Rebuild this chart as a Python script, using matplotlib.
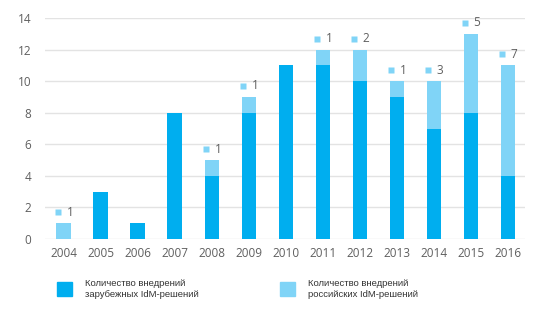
import matplotlib
matplotlib.use("Agg")
import matplotlib.pyplot as plt
import numpy as np
from matplotlib.patches import Rectangle

years = ["2004", "2005", "2006", "2007", "2008", "2009", "2010",
         "2011", "2012", "2013", "2014", "2015", "2016"]
foreign = [0, 3, 1, 8, 4, 8, 11, 11, 10, 9, 7, 8, 4]
russian = [1, 0, 0, 0, 1, 1, 0, 1, 2, 1, 3, 5, 7]

legend_labels = ["Количество внедрений\nзарубежных IdM-решений",
                 "Количество внедрений\nроссийских IdM-решений"]

dark = "#00aeef"
light = "#80d4f7"
txt = "#5f5f5f"

plt.rcParams["font.family"] = ["Open Sans", "DejaVu Sans"]

fig = plt.figure(figsize=(5.39, 3.11), dpi=100)
ax = fig.add_axes([45 / 539, 1 - 239 / 311, 480 / 539, 221 / 311])

x = np.arange(len(years))
ax.bar(x, foreign, width=0.4, color=dark, zorder=3)
ax.bar(x, russian, width=0.4, bottom=foreign, color=light, zorder=3)

# little square + count above bars that have russian part
for i in range(len(years)):
    if russian[i] > 0:
        top = foreign[i] + russian[i]
        yy = top + 0.7
        ax.plot(x[i] - 0.15, yy, marker="s", ms=5, color=light,
                mec="none", zorder=4, clip_on=False)
        ax.text(x[i] + 0.07, yy, str(russian[i]), color=txt, fontsize=8.5,
                va="center", ha="left")

ax.set_xlim(-0.51, 12.46)
ax.set_ylim(0, 14)
ax.set_yticks(range(0, 15, 2))
ax.set_xticks(x)
ax.set_xticklabels(years)
ax.grid(axis="y", color="#e3e3e3", lw=1, zorder=0)
for s in ax.spines.values():
    s.set_visible(False)
ax.tick_params(length=0, colors=txt, labelsize=8.5)
ax.tick_params(axis="y", pad=10)
ax.tick_params(axis="x", pad=6)

# legend drawn by hand
fig.patches.append(Rectangle((57 / 539, 1 - 296 / 311), 15 / 539, 14 / 311,
                             transform=fig.transFigure, color=dark))
fig.patches.append(Rectangle((280 / 539, 1 - 296 / 311), 15 / 539, 14 / 311,
                             transform=fig.transFigure, color=light))
fig.text(85 / 539, 1 - 289 / 311, legend_labels[0], fontsize=6.8, color="#333333",
         va="center", ha="left", family="Liberation Sans", linespacing=1.4)
fig.text(308 / 539, 1 - 289 / 311, legend_labels[1], fontsize=6.8, color="#333333",
         va="center", ha="left", family="Liberation Sans", linespacing=1.4)

fig.savefig("out.png", dpi=100, facecolor="white")
